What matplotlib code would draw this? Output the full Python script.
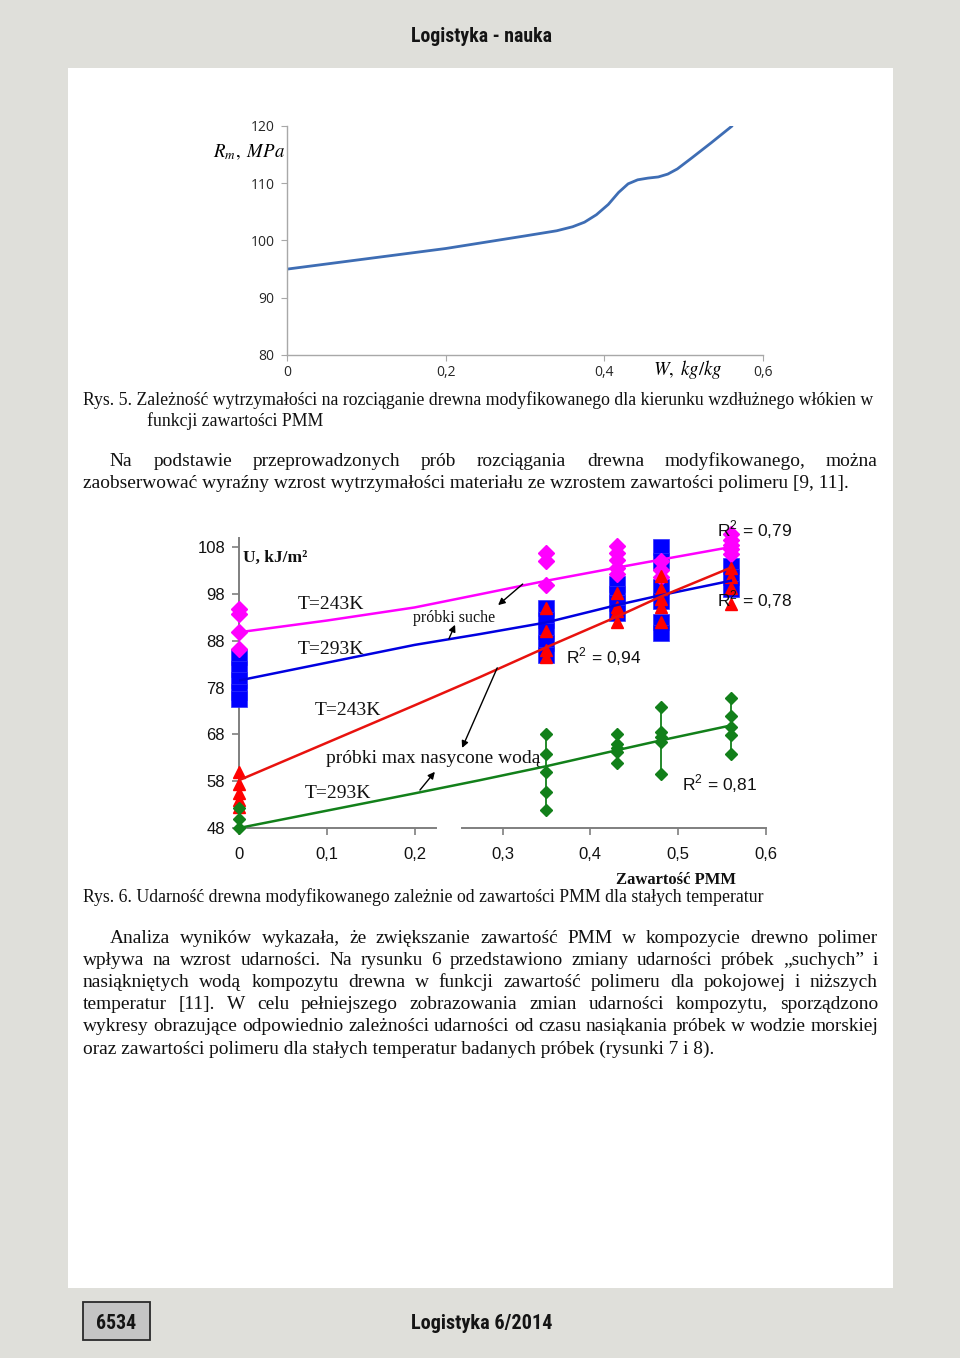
import matplotlib
matplotlib.use('Agg')
import matplotlib.pyplot as plt
from matplotlib.patches import Rectangle

plt.rcParams['mathtext.fontset'] = 'stix'

W_PX, H_PX = 960, 1358

# Rys. 5 - tensile strength vs PMM content
rm_w = [0, 0.1, 0.2, 0.3, 0.34, 0.36, 0.375, 0.39, 0.405, 0.418, 0.43, 0.442, 0.455,
        0.468, 0.48, 0.492, 0.51, 0.535, 0.561]
rm_mpa = [95.0, 96.8, 98.6, 100.8, 101.7, 102.4, 103.2, 104.5, 106.3, 108.4, 109.9, 110.6,
          110.9, 111.1, 111.6, 112.5, 114.4, 117.1, 120.0]
rm_xticks = [0, 0.2, 0.4, 0.6]
rm_xlabels = ['0', '0,2', '0,4', '0,6']
rm_yticks = [80, 90, 100, 110, 120]

# Rys. 6 - impact strength, measured points per PMM content
pmm_cols = [0, 0.35, 0.43, 0.48, 0.56]
dry_243 = [[94.7, 93.6, 89.8, 86.2], [106.8, 105.0, 99.9], [108.2, 106.8, 105.2, 103.6, 102.2],
           [105.0, 103.0, 101.5], [110.8, 109.5, 108.5, 107.5, 106.5]]
dry_293 = [[84.5, 82.0, 79.5, 77.0, 75.5], [95.0, 92.5, 90.0, 87.5, 85.0], [100.0, 98.0, 96.0, 94.0],
           [108.0, 105.0, 99.5, 96.5, 92.0, 89.7], [104.0, 101.5, 99.0]]
wet_243 = [[59.9, 57.5, 55.5, 54.0, 52.5], [95.0, 90.0, 86.0, 84.5], [98.2, 95.1, 94.4, 91.9],
           [101.8, 99.0, 96.9, 95.1, 91.9], [103.5, 101.5, 99.3, 95.8]]
wet_293 = [[52.2, 50.0, 47.9], [68.0, 63.9, 60.0, 55.7, 51.8], [68.0, 66.0, 65.0, 64.2, 61.8],
           [73.8, 68.5, 67.4, 66.4, 59.6], [75.8, 72.0, 69.6, 67.8, 63.7]]

# trend lines
trend_x = [0, 0.1, 0.2, 0.274, 0.35, 0.43, 0.48, 0.56]
trend_dry_243 = [89.8, 92.3, 95.1, 97.9, 100.8, 103.6, 105.3, 108.0]
trend_dry_293 = [79.5, 83.3, 87.1, 89.4, 91.9, 95.6, 97.7, 100.8]
trend_wet_243 = [58.2, 66.2, 74.2, 80.2, 86.6, 93.1, 97.4, 103.6]
trend_wet_293 = [48.0, 51.7, 55.4, 58.2, 61.2, 64.6, 66.7, 69.9]
r2_labels = ['0,79', '0,78', '0,94', '0,81']

u_xticks = [0, 0.1, 0.2, 0.3, 0.4, 0.5, 0.6]
u_xlabels = ['0', '0,1', '0,2', '0,3', '0,4', '0,5', '0,6']
u_yticks = [48, 58, 68, 78, 88, 98, 108]

fig = plt.figure(figsize=(9.6, 13.58), dpi=100, facecolor='#dfdfda')
renderer = fig.canvas.get_renderer()


def fxy(px, py):
    return px / W_PX, 1 - py / H_PX


def text_width(s, size, **kw):
    t = fig.text(0, 0, s, fontsize=size, **kw)
    w = t.get_window_extent(renderer).width
    t.remove()
    return w


def fit_size(s, width, **kw):
    return 12 * width / text_width(s, 12, **kw)


def put_line(s, x0, y, size, x1=None, **kw):
    if x1 is None:
        fig.text(*fxy(x0, y), s, fontsize=size, va='baseline', **kw)
        return
    words = s.split()
    widths = [text_width(w, size, **kw) for w in words]
    gap = (x1 - x0 - sum(widths)) / (len(words) - 1)
    x = x0
    for w, wd in zip(words, widths):
        fig.text(*fxy(x, y), w, fontsize=size, va='baseline', **kw)
        x += wd + gap


# page
fig.patches.append(Rectangle(fxy(68, 1288), (893 - 68) / W_PX, (1288 - 68) / H_PX,
                             transform=fig.transFigure, facecolor='white', edgecolor='none', zorder=-2))
fig.patches.append(Rectangle(fxy(83, 1340), 67 / W_PX, 38 / H_PX, transform=fig.transFigure,
                             facecolor='#c4c4c4', edgecolor='#2a2a2a', lw=1.3, zorder=-1))

head = dict(family=['Roboto Condensed', 'DejaVu Sans Condensed', 'Roboto'], weight='bold',
            color='#141414')
put_line('Logistyka - nauka', 411, 42, fit_size('Logistyka - nauka', 141, **head), **head)
put_line('Logistyka 6/2014', 411, 1329, fit_size('Logistyka 6/2014', 141, **head), **head)
put_line('6534', 96, 1329, fit_size('6534', 40, **head), **head)

# ---- chart 1 ----
ax1 = fig.add_axes([287 / W_PX, 1 - 355 / H_PX, 476 / W_PX, 229 / H_PX])
ax1.set_facecolor('none')
ax1.plot(rm_w, rm_mpa, color='#3e6db4', lw=2.0, solid_capstyle='round', solid_joinstyle='round')
ax1.set_xlim(0, 0.6)
ax1.set_ylim(80, 120)
ax1.set_xticks(rm_xticks, rm_xlabels)
ax1.set_yticks(rm_yticks)
for s in ['top', 'right']:
    ax1.spines[s].set_visible(False)
for s in ['left', 'bottom']:
    ax1.spines[s].set_color('#a8a8a8')
    ax1.spines[s].set_linewidth(1.0)
ax1.tick_params(colors='#a8a8a8', labelcolor='#262626', labelsize=10, length=4,
                labelfontfamily='Open Sans')
ax1.tick_params(axis='y', pad=5)
ax1.tick_params(axis='x', pad=3)
fig.text(*fxy(213, 152), r'$R_m,\ MPa$', fontsize=13.5, va='center', ha='left')
fig.text(*fxy(653, 370), r'$W,\ kg/kg$', fontsize=13.5, va='center', ha='left')

# ---- text ----
serif = dict(family='Liberation Serif', color='#111111')
cap5 = 'Rys. 5. Zależność wytrzymałości na rozciąganie drewna modyfikowanego dla kierunku wzdłużnego włókien w'
cs = fit_size(cap5, 790, **serif)
put_line(cap5, 83, 405, cs, **serif)
put_line('funkcji zawartości PMM', 147, 426, cs, **serif)

p1 = ['Na podstawie przeprowadzonych prób rozciągania drewna modyfikowanego, można',
      'zaobserwować wyraźny wzrost wytrzymałości materiału ze wzrostem zawartości polimeru [9, 11].']
ps1 = fit_size(p1[1], 764, **serif)
put_line(p1[0], 110, 466, ps1, x1=878, **serif)
put_line(p1[1], 83, 488, ps1, **serif)

cap6 = 'Rys. 6. Udarność drewna modyfikowanego zależnie od zawartości PMM dla stałych temperatur'
put_line(cap6, 83, 902, fit_size(cap6, 680, **serif), **serif)

p2 = ['Analiza wyników wykazała, że zwiększanie zawartość PMM w kompozycie drewno polimer',
      'wpływa na wzrost udarności. Na rysunku 6 przedstawiono zmiany udarności próbek „suchych” i',
      'nasiąkniętych wodą kompozytu drewna w funkcji zawartość polimeru dla pokojowej i niższych',
      'temperatur [11]. W celu pełniejszego zobrazowania zmian udarności kompozytu, sporządzono',
      'wykresy obrazujące odpowiednio zależności udarności od czasu nasiąkania próbek w wodzie morskiej',
      'oraz zawartości polimeru dla stałych temperatur badanych próbek (rysunki 7 i 8).']
ps2 = fit_size(p2[-1], 629, **serif)
ys = [943, 965, 987, 1009, 1031, 1054]
for i, (line, y) in enumerate(zip(p2, ys)):
    if i == len(p2) - 1:
        put_line(line, 83, y, ps2, **serif)
    else:
        put_line(line, 110 if i == 0 else 83, y, ps2, x1=878, **serif)

# ---- chart 2 ----
ax2 = fig.add_axes([239 / W_PX, 1 - 828 / H_PX, 527 / W_PX, (828 - 528.3) / H_PX])
ax2.set_facecolor('none')
ax2.set_xlim(0, 0.6)
ax2.set_ylim(48, 112)
for s in ['top', 'right']:
    ax2.spines[s].set_visible(False)
ax2.spines['left'].set_color('#7f7f7f')
ax2.spines['left'].set_linewidth(1.4)
ax2.spines['left'].set_bounds(48, 110)
ax2.spines['bottom'].set_color('#7f7f7f')
ax2.spines['bottom'].set_linewidth(1.4)
axis_gap = (0.224, 0.254)
ax2.spines['bottom'].set_bounds(axis_gap[1], 0.6)
ax2.plot([0, axis_gap[0]], [48, 48], color='#7f7f7f', lw=1.4, clip_on=False, zorder=1)
ax2.set_xticks(u_xticks, u_xlabels)
ax2.set_yticks(u_yticks)
ax2.tick_params(colors='#7f7f7f', labelcolor='#111111', labelsize=12, length=5, width=1.2,
                labelfontfamily='Liberation Sans')
ax2.tick_params(axis='y', pad=5)
ax2.tick_params(axis='x', pad=9)

for xc, vals in zip(pmm_cols, dry_293):
    ax2.plot([xc] * len(vals), vals, ls='none', marker='s', ms=11, color='#0000ff',
             mec='#3030ff', mew=0.5, clip_on=False, zorder=3)
for xc, vals in zip(pmm_cols, dry_243):
    ax2.plot([xc] * len(vals), vals, ls='none', marker='D', ms=8.5, color='#ff00ff',
             clip_on=False, zorder=4)
for xc, vals in zip(pmm_cols, wet_243):
    ax2.plot([xc] * len(vals), vals, ls='none', marker='^', ms=8, color='#ff0000',
             clip_on=False, zorder=5)
for xc, vals in zip(pmm_cols, wet_293):
    ax2.plot([xc] * len(vals), sorted(vals), ls='-', lw=1.3, marker='D', ms=6.5,
             color='#12801a', clip_on=False, zorder=5)

ax2.plot(trend_x, trend_dry_243, color='#ff00ff', lw=1.8, zorder=6)
ax2.plot(trend_x, trend_dry_293, color='#0000e0', lw=1.8, zorder=6)
ax2.plot(trend_x, trend_wet_243, color='#e8120e', lw=1.8, zorder=6)
ax2.plot(trend_x, trend_wet_293, color='#12801a', lw=1.8, zorder=6)

tfs = 14
ax2.text(0.0046, 105.6, 'U, kJ/m²', fontsize=12.5, weight='bold', va='center', **serif)
ax2.text(0.067, 95.8, 'T=243K', fontsize=tfs, va='center', **serif)
ax2.text(0.067, 86.2, 'T=293K', fontsize=tfs, va='center', **serif)
ax2.text(0.198, 92.8, 'próbki suche', fontsize=11.5, va='center', **serif)
ax2.text(0.0865, 73.0, 'T=243K', fontsize=tfs, va='center', **serif)
ax2.text(0.099, 62.9, 'próbki max nasycone wodą', fontsize=tfs, va='center', **serif)
ax2.text(0.075, 55.3, 'T=293K', fontsize=tfs, va='center', **serif)
ax2.text(0.4975, 36.9, 'Zawartość PMM', fontsize=12, weight='bold', ha='center', va='center', **serif)

r2_pos = [(0.544, 111.6), (0.544, 96.7), (0.372, 84.5), (0.504, 57.4)]
for (x, y), lab in zip(r2_pos, r2_labels):
    ax2.text(x, y, r'R$^{\mathregular{2}}$ = ' + lab, fontsize=12.5, va='center',
             family='Liberation Sans', color='#111111', zorder=8)

arrows = [((0.239, 88.4), (0.246, 91.4)), ((0.323, 100.1), (0.295, 95.6)),
          ((0.294, 82.2), (0.254, 65.1)), ((0.206, 56.1), (0.223, 60.0))]
for tail, tip in arrows:
    ax2.annotate('', xy=tip, xytext=tail,
                 arrowprops=dict(arrowstyle='-|>', color='black', lw=1.0,
                                 mutation_scale=10, shrinkA=0, shrinkB=0), zorder=7)

fig.savefig('out.png', dpi=100, facecolor=fig.get_facecolor())
